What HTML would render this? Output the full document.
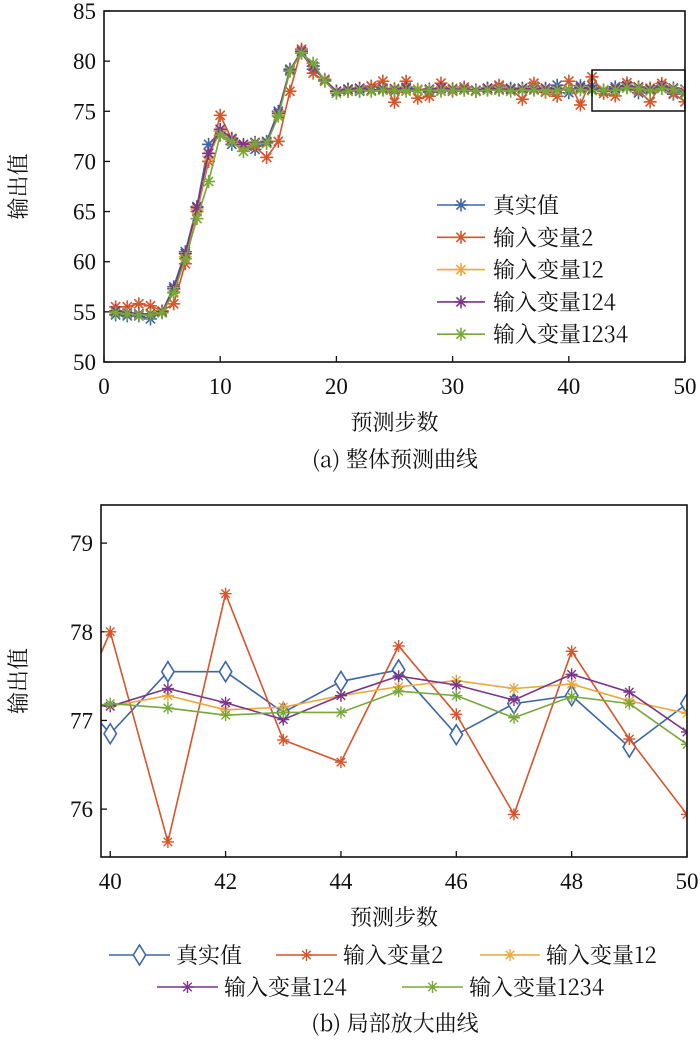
<!DOCTYPE html>
<html><head><meta charset="utf-8">
<style>
html,body{margin:0;padding:0;background:#fff;}
svg text{font-family:"Liberation Serif","Noto Serif CJK SC",serif;fill:#111;}
svg text.cjk{font-family:"Noto Serif CJK SC","Liberation Serif",serif;}
</style></head>
<body>
<svg id="fig" width="700" height="1038" viewBox="0 0 700 1038" xmlns="http://www.w3.org/2000/svg">
<g id="top"></g>
<g id="bot"></g>
</svg>
<script>
// ---- data ----
const seriesNames = ["真实值","输入变量2","输入变量12","输入变量124","输入变量1234"];
const seriesColors = ["#3b67a9","#d8542a","#eba93a","#7b3588","#76a83a"];
const steps = [1,2,3,4,5,6,7,8,9,10,11,12,13,14,15,16,17,18,19,20,21,22,23,24,25,26,27,28,29,30,31,32,33,34,35,36,37,38,39,40,41,42,43,44,45,46,47,48,49,50];
const realValues = [54.7,54.6,54.6,54.3,55.0,57.5,61.0,65.5,71.7,73.0,71.7,71.5,71.2,72.0,75.0,79.2,80.8,79.2,78.2,77.0,77.2,77.0,77.5,77.3,77.0,77.4,77.2,76.9,77.3,77.1,77.4,77.0,77.2,77.5,77.3,77.1,77.5,77.2,77.6,76.85,77.55,77.55,77.09,77.44,77.57,76.84,77.19,77.28,76.70,77.19];
const var2Values = [55.5,55.5,55.8,55.6,55.1,55.8,59.8,65.0,70.0,74.6,72.2,71.5,71.5,70.4,72.0,77.0,81.2,78.8,78.0,77.0,77.0,77.2,77.5,78.0,75.9,78.0,76.3,76.5,77.8,77.0,77.4,77.0,77.3,77.6,77.2,76.2,77.8,76.9,76.5,78.0,75.63,78.43,76.78,76.53,77.84,77.07,75.94,77.78,76.79,75.94];
const var12Values = [55.0,54.8,54.7,54.8,55.0,57.0,60.5,65.2,70.5,73.0,72.0,71.6,71.8,71.8,74.6,79.0,80.9,79.5,78.2,77.0,77.1,77.2,77.1,77.2,77.3,77.1,77.2,77.2,77.1,77.3,77.2,77.1,77.2,77.3,77.2,77.2,77.3,77.2,77.2,77.16,77.28,77.12,77.15,77.28,77.38,77.45,77.36,77.41,77.22,77.08];
const var124Values = [55.1,54.9,54.8,54.8,55.0,57.3,60.8,65.4,70.8,73.2,72.3,71.7,71.9,71.9,74.8,79.1,81.0,79.5,78.1,77.0,77.2,77.3,77.1,77.2,77.2,77.3,77.1,77.2,77.3,77.2,77.2,77.1,77.3,77.2,77.2,77.3,77.2,77.3,77.2,77.16,77.36,77.20,77.01,77.28,77.50,77.40,77.23,77.52,77.32,76.87];
const var1234Values = [54.9,54.8,54.7,54.7,54.9,56.9,60.3,64.3,68.0,72.6,72.0,71.0,71.8,71.8,74.5,79.0,80.8,79.8,78.0,76.8,77.0,77.1,77.0,77.1,77.1,77.0,77.1,77.1,77.0,77.1,77.1,77.0,77.1,77.1,77.0,77.1,77.1,77.0,77.1,77.19,77.14,77.06,77.09,77.09,77.33,77.28,77.03,77.27,77.19,76.73];
const topXTicks = [0,10,20,30,40,50];
const topYTicks = [50,55,60,65,70,75,80,85];
const botXTicks = [40,42,44,46,48,50];
const botYTicks = [76,77,78,79];

const allSeries = [realValues,var2Values,var12Values,var124Values,var1234Values];
const NS="http://www.w3.org/2000/svg";
function mk(parent,tag,attrs,text){const e=document.createElementNS(NS,tag);for(const k in attrs)e.setAttribute(k,attrs[k]);if(text!==undefined)e.textContent=text;parent.appendChild(e);return e;}
function star(g,cx,cy,r,c,w){
  for(let a=0;a<4;a++){const t=a*Math.PI/4;const l=mk(g,"line",{x1:cx-r*Math.cos(t),y1:cy-r*Math.sin(t),x2:cx+r*Math.cos(t),y2:cy+r*Math.sin(t),stroke:c,"stroke-width":w});
  
  }
}
function diamond(g,cx,cy,r,c){const p=mk(g,"polygon",{points:`${cx},${cy-r} ${cx+r*0.62},${cy} ${cx},${cy+r} ${cx-r*0.62},${cy}`,fill:"#fff",stroke:c,"stroke-width":1.6});

}

function chart(g,o){
  const sx=v=>o.x0+(v-o.xmin)/(o.xmax-o.xmin)*(o.x1-o.x0);
  const sy=v=>o.y1-(v-o.ymin)/(o.ymax-o.ymin)*(o.y1-o.y0);
  const clip="clip"+o.id;
  const cp=mk(g,"clipPath",{id:clip});mk(cp,"rect",{x:o.x0,y:o.y0,width:o.x1-o.x0,height:o.y1-o.y0});
  o.xt.forEach(v=>{const x=sx(v);
    const t=mk(g,"line",{x1:x,y1:o.y1,x2:x,y2:o.y1-6,stroke:"#111","stroke-width":1.3});
    
    
    const l=mk(g,"text",{x:x,y:o.y1+32,"text-anchor":"middle","font-size":23},String(v));
    
    });
  o.yt.forEach(v=>{const y=sy(v);
    const t=mk(g,"line",{x1:o.x0,y1:y,x2:o.x0+6,y2:y,stroke:"#111","stroke-width":1.3});
    
    
    const l=mk(g,"text",{x:o.x0-8,y:y+8,"text-anchor":"end","font-size":23},String(v));
    
    });
  const sg=mk(g,"g",{"clip-path":`url(#${clip})`});
  
  
  allSeries.forEach((vals,si)=>{
    const c=seriesColors[si];
    const pts=[];
    steps.forEach((s,i)=>{if(s>=o.from)pts.push([sx(s),sy(vals[i])]);});
    if(o.lead){const i0=steps.indexOf(o.from);const a=vals[i0-1],b=vals[i0];const v=a+(b-a)*(1-(o.from-o.xmin)); pts.unshift([sx(o.xmin),sy(v)]);}
    const pl=mk(sg,"polyline",{points:pts.map(p=>p.join(",")).join(" "),fill:"none",stroke:c,"stroke-width":o.lw});
    
    
    steps.forEach((s,i)=>{if(s<o.from)return;const x=sx(s),y=sy(vals[i]);
      if(o.diamond&&si===0)diamond(sg,x,y,10,c);else star(sg,x,y,o.mr,c,o.mw);});
  });
  const fr=mk(g,"rect",{x:o.x0,y:o.y0,width:o.x1-o.x0,height:o.y1-o.y0,fill:"none",stroke:"#111","stroke-width":1.6});
  
  
  const yl=mk(g,"text",{class:"cjk",x:0,y:0,transform:`translate(${o.ylx},${(o.y0+o.y1)/2}) rotate(-90)`,"text-anchor":"middle","font-size":22},"输出值");
  
  
  const xl=mk(g,"text",{class:"cjk",x:(o.x0+o.x1)/2,y:o.y1+68,"text-anchor":"middle","font-size":22},"预测步数");
  
  
  return {sx,sy};
}
const T=document.getElementById("top");
chart(T,{id:"t",x0:104,x1:685,y0:11,y1:362,xmin:0,xmax:50,ymin:50,ymax:85,xt:topXTicks,yt:topYTicks,from:1,lw:1.6,mr:6.5,mw:1.6,ylx:26});
const zr=mk(T,"rect",{x:592,y:70,width:93,height:41,fill:"none",stroke:"#111","stroke-width":1.5});


seriesNames.forEach((n,i)=>{const y=205+i*32.3;
  const g=mk(T,"g",{});
  
  
  mk(g,"line",{x1:437,y1:y,x2:485,y2:y,stroke:seriesColors[i],"stroke-width":1.6});
  star(g,461,y,6.5,seriesColors[i],1.6);
  mk(g,"text",{class:"cjk",x:493,y:y+8,"font-size":22},n);
});
const ca=mk(T,"text",{class:"cjk",x:395,y:467,"text-anchor":"middle","font-size":22},"(a) 整体预测曲线");



const B=document.getElementById("bot");
chart(B,{id:"b",x0:101,x1:687,y0:505,y1:857,xmin:39.84,xmax:50,ymin:75.46,ymax:79.43,xt:botXTicks,yt:botYTicks,from:40,lead:true,lw:1.6,mr:6,mw:1.4,diamond:true,ylx:26});
const legPos=[[109,170,955],[276,337,955],[480,540,955],[157,218,987],[402,463,987]];
seriesNames.forEach((n,i)=>{const p=legPos[i];const y=p[2];
  const g=mk(B,"g",{});
  
  
  mk(g,"line",{x1:p[0],y1:y,x2:p[1],y2:y,stroke:seriesColors[i],"stroke-width":1.6});
  if(i===0)diamond(g,(p[0]+p[1])/2,y,10,seriesColors[0]);else star(g,(p[0]+p[1])/2,y,6,seriesColors[i],1.4);
  mk(g,"text",{class:"cjk",x:p[1]+6,y:y+8,"font-size":22},n);
});
const cb=mk(B,"text",{class:"cjk",x:395,y:1031,"text-anchor":"middle","font-size":22},"(b) 局部放大曲线");


</script>
</body></html>
